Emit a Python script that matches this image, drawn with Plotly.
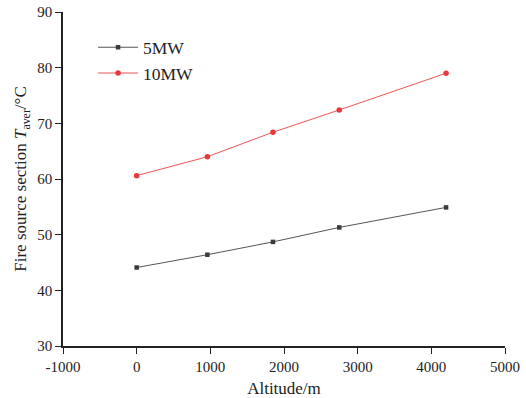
import plotly.graph_objects as go

altitude = [0, 960, 1850, 2750, 4200]
t_5mw = [44.1, 46.4, 48.7, 51.3, 54.9]
t_10mw = [60.6, 64.0, 68.4, 72.4, 79.0]

x_ticks = [-1000, 0, 1000, 2000, 3000, 4000, 5000]
y_ticks = [30, 40, 50, 60, 70, 80, 90]

font = "Liberation Serif, Times New Roman, serif"

fig = go.Figure()
fig.add_trace(go.Scatter(
    x=altitude, y=t_5mw, name="5MW", mode="lines+markers",
    line=dict(color="#555555", width=1),
    marker=dict(symbol="square", size=4.5, color="#3a3a3a"),
))
fig.add_trace(go.Scatter(
    x=altitude, y=t_10mw, name="10MW", mode="lines+markers",
    line=dict(color="#ee5555", width=1),
    marker=dict(symbol="circle", size=5.5, color="#e8383d"),
))

fig.update_layout(
    width=526, height=398,
    margin=dict(l=63, r=21, t=12, b=52),
    plot_bgcolor="white", paper_bgcolor="white",
    font=dict(family=font, size=15, color="#222222"),
    showlegend=True,
    legend=dict(x=0.068, y=0.948, xanchor="left", yanchor="top",
                bgcolor="rgba(0,0,0,0)", font=dict(size=17.5, family=font),
                itemwidth=40, tracegroupgap=0),
    xaxis=dict(
        range=[-1000, 5000], tickvals=x_ticks, ticktext=[str(v) for v in x_ticks],
        showgrid=False, zeroline=False, showline=True, linecolor="#222222", linewidth=1.5,
        ticks="outside", ticklen=6, tickcolor="#222222", tickwidth=1.2, automargin=False,
        title=dict(text="Altitude/m", font=dict(size=17, family=font), standoff=10),
    ),
    yaxis=dict(
        range=[30, 90], tickvals=y_ticks,
        showgrid=False, zeroline=False, showline=True, linecolor="#222222", linewidth=1.5,
        ticks="outside", ticklen=6, tickcolor="#222222", tickwidth=1.2, automargin=False,
        title=dict(text="Fire source section <i>T</i><sub>aver</sub>/°C", font=dict(size=17, family=font), standoff=6),
    ),
)

fig.write_html("out.html")
